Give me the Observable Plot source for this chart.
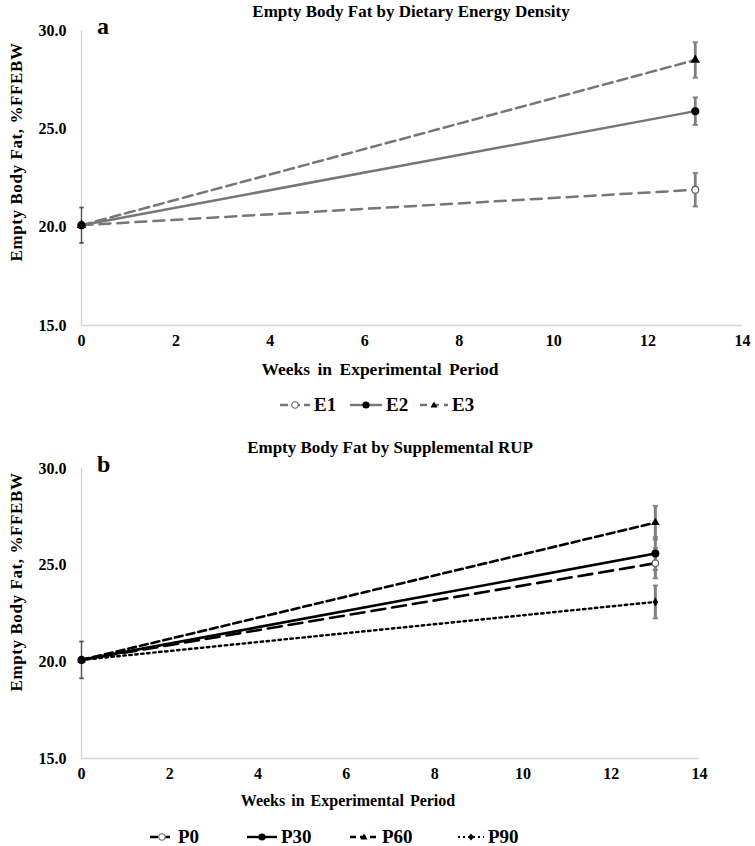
<!DOCTYPE html>
<html><head><meta charset="utf-8">
<script src="https://cdn.jsdelivr.net/npm/d3@7"></script>
<script src="https://cdn.jsdelivr.net/npm/@observablehq/plot@0.6"></script>
<style>
body{margin:0;background:#fff;font-family:"Liberation Serif","Times New Roman",serif;}
#wrap{position:relative;width:755px;height:846px;overflow:hidden;background:#fff;}
.t{position:absolute;font-weight:bold;color:#000;white-space:nowrap;line-height:1;}
.tc{position:absolute;font-weight:bold;color:#000;white-space:nowrap;line-height:1;transform:translate(-50%,-50%);}
.ylab{position:absolute;font-weight:bold;white-space:nowrap;line-height:1;transform:translate(-50%,-50%) rotate(-90deg);font-size:17px;letter-spacing:0.6px;}
.leg{position:absolute;display:flex;align-items:center;font-weight:bold;white-space:nowrap;}
.leg svg{display:block;margin-right:4px;}
</style></head><body><div id="wrap"></div>
<script>
// ---------- data ----------
const weeksA = [0, 13];
const weeksB = [0, 13];
const xTicks = [0, 2, 4, 6, 8, 10, 12, 14];
const yTicks = [15, 20, 25, 30];

const e1Fat = [20.1, 21.9]; const e1Err = [0.9, 0.85];
const e2Fat = [20.1, 25.9]; const e2Err = [0.9, 0.7];
const e3Fat = [20.1, 28.5]; const e3Err = [0.9, 0.9];

const p0Fat  = [20.1, 25.1]; const p0Err  = [0.95, 0.78];
const p30Fat = [20.1, 25.6]; const p30Err = [0.95, 0.85];
const p60Fat = [20.1, 27.2]; const p60Err = [0.95, 0.87];
const p90Fat = [20.1, 23.1]; const p90Err = [0.95, 0.85];

const titleA = "Empty Body Fat by Dietary Energy Density";
const titleB = "Empty Body Fat by Supplemental RUP";
const xLabel = "Weeks in Experimental Period";
const yLabel = "Empty Body Fat, %FFEBW";
const legendA = ["E1", "E2", "E3"];
const legendB = ["P0", "P30", "P60", "P90"];

// ---------- helpers ----------
const rows = (group, weeks, fat, err) => weeks.map((w, i) => ({group, week: w, fat: fat[i], err: err[i]}));
const capSymbol = {draw(ctx, size){const w = Math.sqrt(size/Math.PI); ctx.moveTo(-w,0); ctx.lineTo(w,0);}};
const wrap = document.getElementById("wrap");
function addText(txt, cls, style){const d=document.createElement("div"); d.className=cls; d.textContent=txt; Object.assign(d.style, style); wrap.appendChild(d); return d;}

function errMarks(data, color, width, capR){
  return [
    Plot.ruleX(data, {x:"week", y1:d=>d.fat-d.err, y2:d=>d.fat+d.err, stroke:color, strokeWidth:width}),
    Plot.dot(data, {x:"week", y:d=>d.fat-d.err, symbol:capSymbol, r:capR, stroke:color, strokeWidth:1.8, fill:"none"}),
    Plot.dot(data, {x:"week", y:d=>d.fat+d.err, symbol:capSymbol, r:capR, stroke:color, strokeWidth:1.8, fill:"none"})
  ];
}
function baseAxes(){
  return [
    Plot.ruleX([0], {stroke:"#d4d4d4", strokeWidth:1.3}),
    Plot.ruleY([15], {stroke:"#d4d4d4", strokeWidth:1.3}),
    Plot.axisX({ticks:xTicks, tickSize:0, tickPadding:9, label:null}),
    Plot.axisY({ticks:yTicks, tickSize:0, tickPadding:15, tickFormat:d3.format(".1f"), label:null})
  ];
}
const plotStyle = {fontFamily:"'Liberation Serif','Times New Roman',serif", fontSize:"16px", fontWeight:"bold", color:"#000", overflow:"visible", background:"transparent"};

// ---------- chart a ----------
const E1 = rows("E1", weeksA, e1Fat, e1Err);
const E2 = rows("E2", weeksA, e2Fat, e2Err);
const E3 = rows("E3", weeksA, e3Fat, e3Err);
const gray = "#767676";
const startA = E2.filter(d => d.week === 0);
const endA = [...E1, ...E2, ...E3].filter(d => d.week !== 0);

const chartA = Plot.plot({
  width:755, height:345, marginLeft:81, marginRight:13, marginTop:30, marginBottom:20,
  x:{domain:[0,14]}, y:{domain:[15,30]},
  style: plotStyle,
  marks:[
    ...baseAxes(),
    ...errMarks(endA, "#7f7f7f", 2.8, 2.6),
    ...errMarks(startA, "#555", 1.4, 2.2),
    Plot.line(E1, {x:"week", y:"fat", stroke:gray, strokeWidth:2.5, strokeDasharray:"11,7"}),
    Plot.line(E3, {x:"week", y:"fat", stroke:gray, strokeWidth:2.5, strokeDasharray:"10,5"}),
    Plot.line(E2, {x:"week", y:"fat", stroke:gray, strokeWidth:2.5}),
    Plot.dot(E1, {x:"week", y:"fat", r:3.4, fill:"#fff", stroke:"#555", strokeWidth:1.1}),
    Plot.dot(E3, {x:"week", y:"fat", symbol:"triangle", r:3.6, fill:"#000"}),
    Plot.dot(E2, {x:"week", y:"fat", r:4, fill:"#000"})
  ]
});
chartA.style.position="absolute"; chartA.style.left="0px"; chartA.style.top = "0px";
wrap.appendChild(chartA);

// ---------- chart b ----------
const P0  = rows("P0",  weeksB, p0Fat,  p0Err);
const P30 = rows("P30", weeksB, p30Fat, p30Err);
const P60 = rows("P60", weeksB, p60Fat, p60Err);
const P90 = rows("P90", weeksB, p90Fat, p90Err);
const startB = P30.filter(d => d.week === 0);
const endB = [...P0, ...P30, ...P60, ...P90].filter(d => d.week !== 0);

const chartB = Plot.plot({
  width:755, height:340, marginLeft:81, marginRight:56, marginTop:30, marginBottom:20,
  x:{domain:[0,14]}, y:{domain:[15,30]},
  style: plotStyle,
  marks:[
    ...baseAxes(),
    ...errMarks(endB, "#808080", 3, 2.6),
    ...errMarks(startB, "#555", 1.4, 2.2),
    Plot.line(P90, {x:"week", y:"fat", stroke:"#000", strokeWidth:2.4, strokeDasharray:"2.5,3.5"}),
    Plot.line(P0,  {x:"week", y:"fat", stroke:"#000", strokeWidth:2.6, strokeDasharray:"14,7"}),
    Plot.line(P60, {x:"week", y:"fat", stroke:"#000", strokeWidth:2.6, strokeDasharray:"8,4"}),
    Plot.line(P30, {x:"week", y:"fat", stroke:"#000", strokeWidth:2.6}),
    Plot.dot(P0,  {x:"week", y:"fat", r:3.2, fill:"#fff", stroke:"#555", strokeWidth:1.1}),
    Plot.dot(P90, {x:"week", y:"fat", symbol:"diamond", r:2.8, fill:"#000"}),
    Plot.dot(P60, {x:"week", y:"fat", symbol:"triangle", r:3.2, fill:"#000"}),
    Plot.dot(P30, {x:"week", y:"fat", r:4, fill:"#000"})
  ]
});
chartB.style.position="absolute"; chartB.style.left="0px"; chartB.style.top = "438px";
wrap.appendChild(chartB);

// ---------- texts ----------
addText(titleA, "tc", {left:"411px", top:"11px", fontSize:"17px"});
addText("a", "t", {left:"97px", top:"14px", fontSize:"24px"});
addText(yLabel, "ylab", {left:"16px", top:"152px"});
addText(xLabel, "tc", {left:"380px", top:"370px", fontSize:"17.5px", wordSpacing:"3px"});

addText(titleB, "tc", {left:"390px", top:"447px", fontSize:"17px"});
addText("b", "t", {left:"97px", top:"452px", fontSize:"24px"});
addText(yLabel, "ylab", {left:"16px", top:"582px"});
addText(xLabel, "tc", {left:"348px", top:"801px", fontSize:"16px", wordSpacing:"2px"});

// ---------- legends ----------
function legendItem(label, left, top, w, stroke, dash, sw, marker, fs){
  const d = document.createElement("div"); d.className="leg";
  Object.assign(d.style, {left:left+"px", top:top+"px", fontSize:fs+"px", height:"20px"});
  const ns="http://www.w3.org/2000/svg";
  const s=document.createElementNS(ns,"svg"); s.setAttribute("width",w); s.setAttribute("height",14);
  const l=document.createElementNS(ns,"line");
  l.setAttribute("x1",0); l.setAttribute("x2",w); l.setAttribute("y1",7); l.setAttribute("y2",7);
  l.setAttribute("stroke",stroke); l.setAttribute("stroke-width",sw); if(dash) l.setAttribute("stroke-dasharray",dash);
  s.appendChild(l);
  let m;
  if(marker==="open"){m=document.createElementNS(ns,"circle"); m.setAttribute("cx",w/2); m.setAttribute("cy",7); m.setAttribute("r",3.3); m.setAttribute("fill","#fff"); m.setAttribute("stroke","#555");}
  else if(marker==="dot"){m=document.createElementNS(ns,"circle"); m.setAttribute("cx",w/2); m.setAttribute("cy",7); m.setAttribute("r",3.6); m.setAttribute("fill","#000");}
  else if(marker==="tri"){m=document.createElementNS(ns,"path"); m.setAttribute("d",`M${w/2},3.5L${w/2+3.5},9.5L${w/2-3.5},9.5Z`); m.setAttribute("fill","#000");}
  else if(marker==="dia"){m=document.createElementNS(ns,"path"); m.setAttribute("d",`M${w/2},3.5L${w/2+3},7L${w/2},10.5L${w/2-3},7Z`); m.setAttribute("fill","#000");}
  s.appendChild(m);
  d.appendChild(s);
  const sp=document.createElement("span"); sp.textContent=label; d.appendChild(sp);
  wrap.appendChild(d);
}
legendItem(legendA[0], 280, 395, 30, gray, "8,4", 2.4, "open", 19);
legendItem(legendA[1], 350, 395, 32, gray, null, 2.4, "dot", 19);
legendItem(legendA[2], 420, 395, 28, gray, "7,5", 2.4, "tri", 19);
legendItem(legendB[0], 150, 827, 24, "#000", "8,4", 2.4, "open", 19);
legendItem(legendB[1], 247, 827, 30, "#000", null, 2.4, "dot", 19);
legendItem(legendB[2], 350, 827, 28, "#000", "6,4", 2.4, "tri", 19);
legendItem(legendB[3], 458, 827, 26, "#000", "2,3", 2, "dia", 19);
</script></body></html>
